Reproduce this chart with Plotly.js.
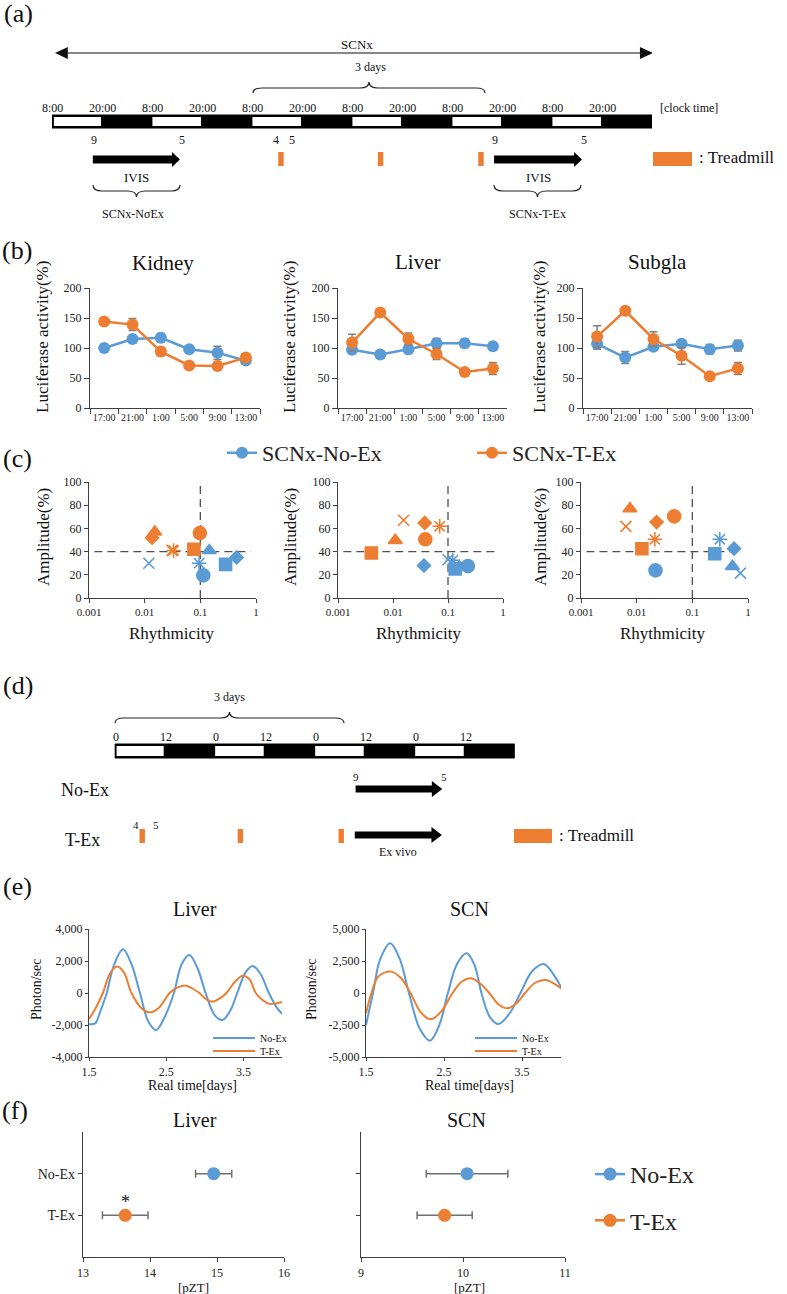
<!DOCTYPE html>
<html><head><meta charset="utf-8">
<script src="https://cdn.plot.ly/plotly-3.0.1.min.js"></script>
<style>html,body{margin:0;padding:0;background:#fff;}#chart{width:787px;height:1294px;}</style>
</head><body><div id="chart"></div>
<script>
// ================= DATA =================
const BLUE = '#5B9BD5', ORANGE = '#ED7D31';

// (a) timeline (hours from 8:00 of day 1)
const aClockHours = [0,12,24,36,48,60,72,84,96,108,120,132];
const aClockLabels = ['8:00','20:00','8:00','20:00','8:00','20:00','8:00','20:00','8:00','20:00','8:00','20:00'];
const aLightOn = [0,24,48,72,96,120];
const aTotalHours = 144;
const aSpan = [0.7, 144.2];
const aIvis = [[9.8,30.7],[106.1,127.2]];
const aIvisLabels = [['9','5'],['9','5']];
const aGroupLabels = ['SCNx-NσEx','SCNx-T-Ex'];
const aTread = [54.3, 78.2, 102.3];
const treadLen = 1.3;
const lightLen = 12;

// (b) luciferase activity
const bTimes = ['17:00','21:00','1:00','5:00','9:00','13:00'];
const kidneyNoEx = [100,115,117,98,92,79];
const kidneyNoExErr = [3,5,7,4,11,4];
const kidneyTEx = [144,139,94,71,70,84];
const kidneyTExErr = [4,10,7,4,4,5];
const liverNoEx = [97,89,98,108,108,103];
const liverNoExErr = [6,6,7,8,7,5];
const liverTEx = [109,159,115,90,60,66];
const liverTExErr = [14,5,10,9,4,10];
const subglaNoEx = [107,84,102,107,98,104];
const subglaNoExErr = [9,10,5,5,8,9];
const subglaTEx = [119,162,115,87,53,66];
const subglaTExErr = [18,5,12,14,4,10];

// (c) rhythmicity vs amplitude
const kidRhyTEx = [0.0136,0.0152,0.031,0.033,0.0766,0.098];
const kidAmpTEx = [52,57,41,41,42,56];
const kidSymTEx = ['diamond','triangle-up','x-thin-open','asterisk-open','square','circle'];
const kidRhyNoEx = [0.0119,0.095,0.113,0.145,0.284,0.449];
const kidAmpNoEx = [30,30,19.5,41,29,35];
const kidSymNoEx = ['x-thin-open','asterisk-open','circle','triangle-up','square','diamond'];

const livRhyTEx = [0.0156,0.0377,0.0705,0.011,0.0387,0.00404];
const livAmpTEx = [67,64.7,61.8,49.7,50.6,38.8];
const livSymTEx = ['x-thin-open','diamond','asterisk-open','triangle-up','circle','square'];
const livRhyNoEx = [0.0366,0.1,0.122,0.135,0.16,0.23];
const livAmpNoEx = [28,33,32.5,25,27,27.5];
const livSymNoEx = ['diamond','x-thin-open','asterisk-open','square','triangle-up','circle'];

const subRhyTEx = [0.00757,0.0064,0.0228,0.0472,0.0212,0.0124];
const subAmpTEx = [77,61.8,65.5,70.4,50.6,42.5];
const subSymTEx = ['triangle-up','x-thin-open','diamond','circle','asterisk-open','square'];
const subRhyNoEx = [0.0218,0.311,0.253,0.562,0.525,0.73];
const subAmpNoEx = [23.8,50.6,38.2,42.5,27.3,21.5];
const subSymNoEx = ['circle','asterisk-open','square','diamond','triangle-up','x-thin-open'];

const ampThreshold = 40;
const rhyThreshold = 0.1;

// (d) timeline (ZT hours)
const dZTHours = [0,12,24,36,48,60,72,84];
const dZTLabels = ['0','12','0','12','0','12','0','12'];
const dLightOn = [0,24,48,72];
const dTotalHours = 96;
const dNoExArrow = [57.8,78.6];
const dTExArrow = [57.6,78.5];
const dTread = [5.95,29.5,53.7];

// (e) bioluminescence traces
const eLiverNoExDays = [1.5,1.58,1.65,1.73,1.82,1.94,2.05,2.16,2.27,2.37,2.48,2.60,2.70,2.80,2.91,3.01,3.13,3.23,3.33,3.42,3.53,3.62,3.72,3.83,3.93,4.0];
const eLiverNoExVals = [-1950,-1900,-1100,0,1700,2730,1800,0,-1800,-2310,-1500,0,1800,2380,1500,0,-1400,-1690,-1100,0,1300,1690,1200,0,-900,-1300];
const eLiverTExDays = [1.5,1.58,1.68,1.77,1.86,1.95,2.05,2.17,2.29,2.41,2.545,2.65,2.76,2.85,2.93,3.02,3.10,3.19,3.28,3.39,3.49,3.58,3.66,3.75,3.84,3.92,4.0];
const eLiverTExVals = [-1625,-1000,0,1200,1650,1300,0,-900,-1210,-900,0,350,460,250,0,-400,-540,-350,0,700,1080,850,0,-450,-680,-650,-560];
const eScnNoExDays = [1.5,1.59,1.68,1.81,1.93,2.05,2.19,2.32,2.44,2.55,2.67,2.79,2.89,2.98,3.09,3.20,3.34,3.48,3.63,3.78,3.92,4.03];
const eScnNoExVals = [-2500,0,2600,3880,2700,0,-2800,-3720,-2500,0,2300,3100,2200,0,-1900,-2420,-1600,0,1700,2260,1300,100];
const eScnTExDays = [1.5,1.57,1.66,1.82,1.95,2.07,2.2,2.33,2.47,2.61,2.73,2.85,2.97,3.08,3.2,3.31,3.43,3.54,3.67,3.80,3.92,4.03];
const eScnTExVals = [-1580,0,1300,1670,1150,0,-1500,-2060,-1400,0,900,1150,700,0,-900,-1200,-800,0,800,1020,700,230];
const eLiverTicks = [-4000,-2000,0,2000,4000];
const eLiverTickText = ['-4,000','-2,000','0','2,000','4,000'];
const eScnTicks = [-5000,-2500,0,2500,5000];
const eScnTickText = ['-5,000','-2,500','0','2,500','5,000'];
const eDayTicks = [1.5,2.5,3.5];

// (f) peak phase
const fGroups = ['No-Ex','T-Ex'];
const fLiverPhase = [14.95,13.63];
const fLiverErr = [0.27,0.34];
const fScnPhase = [10.04,9.82];
const fScnErr = [0.40,0.27];

// ================= HELPERS =================
const FONT = "'Liberation Serif', 'DejaVu Serif', serif";
const W = 787, H = 1294;
const fx = p => p / W, fy = p => 1 - p / H;
const TXT = '#111';

const annotations = [];
const shapes = [];
function T(text, x, y, size, o) {
  annotations.push(Object.assign({text, x: fx(x), y: fy(y), xref: 'paper', yref: 'paper', showarrow: false,
    font: {family: FONT, size, color: TXT}, xanchor: 'center', yanchor: 'middle'}, o || {}));
}
function TA(text, axis, h, y, size, o) {
  annotations.push(Object.assign({text, x: h, y, xref: axis, yref: 'y13', showarrow: false,
    font: {family: FONT, size, color: TXT}, xanchor: 'center', yanchor: 'middle'}, o || {}));
}
function rect(axis, x0, x1, y0, y1, color, lw, lc) {
  shapes.push({type: 'rect', xref: axis, yref: 'y13', x0, x1, y0, y1, fillcolor: color,
    line: {width: lw || 0, color: lc || color}});
}
function arrowShape(axis, h1, h2, yc, headLen, bodyHalf, headHalf) {
  const hb = h2 - headLen;
  shapes.push({type: 'path', xref: axis, yref: 'y13', fillcolor: '#000', line: {width: 0},
    path: `M${h1},${yc-bodyHalf} L${hb},${yc-bodyHalf} L${hb},${yc-headHalf} L${h2},${yc} L${hb},${yc+headHalf} L${hb},${yc+bodyHalf} L${h1},${yc+bodyHalf} Z`});
}
function brace(x1, x2, yEnd, yLine, yTip) {
  const xm = (x1 + x2) / 2, r = 9;
  shapes.push({type: 'path', xref: 'x13', yref: 'y13', line: {color: '#222', width: 1.2},
    path: `M${x1},${yEnd} Q${x1},${yLine} ${x1+r},${yLine} L${xm-r},${yLine} Q${xm},${yLine} ${xm},${yTip} Q${xm},${yLine} ${xm+r},${yLine} L${x2-r},${yLine} Q${x2},${yLine} ${x2},${yEnd}`});
}

// ================= PANEL (a) SCHEMATIC =================
T('(a)', 18, 14, 26);
shapes.push({type: 'line', xref: 'x10', yref: 'y13', x0: aSpan[0] + 2, x1: aSpan[1] - 2, y0: 53, y1: 53, line: {color: '#111', width: 1.2}});
shapes.push({type: 'path', xref: 'x10', yref: 'y13', fillcolor: '#111', line: {width: 0},
  path: `M${aSpan[0]},53 L${aSpan[0]+3.1},47 L${aSpan[0]+3.1},59 Z`});
shapes.push({type: 'path', xref: 'x10', yref: 'y13', fillcolor: '#111', line: {width: 0},
  path: `M${aSpan[1]},53 L${aSpan[1]-3.1},47 L${aSpan[1]-3.1},59 Z`});
T('SCNx', 357, 45, 13);
T('3 days', 370, 67, 12);
brace(253, 485, 93, 88, 82);
rect('x10', 0, aTotalHours, 115, 128, '#000', 1, '#000');
aLightOn.forEach(h => rect('x10', h + (h === 0 ? 0.45 : 0.1), h + lightLen - 0.25, 117, 126, '#fff'));
aClockHours.forEach((h, i) => TA(aClockLabels[i], 'x10', h, 108, 12));
T('[clock time]', 658, 108, 12, {xanchor: 'left'});
aIvis.forEach((seg, i) => {
  arrowShape('x10', seg[0], seg[1], 159.5, 1.9, 4, 7.5);
  TA(aIvisLabels[i][0], 'x10', seg[0] + 0.2, 140, 12);
  TA(aIvisLabels[i][1], 'x10', seg[1] + 0.5, 140, 12);
  TA('IVIS', 'x10', (seg[0] + seg[1]) / 2, 177, 13);
});
brace(93, 180, 185, 191, 197);
brace(494, 581, 185, 191, 197);
T(aGroupLabels[0], 133, 214, 12);
T(aGroupLabels[1], 537, 214, 12);
aTread.forEach(h => rect('x10', h, h + treadLen, 152, 166, ORANGE));
TA('4', 'x10', aTread[0] - 0.6, 140, 12);
TA('5', 'x10', aTread[0] + treadLen + 2.0, 140, 12);
rect('x13', 653, 692, 152, 166, ORANGE);
T(': Treadmill', 697, 158, 17, {xanchor: 'left'});

// ================= PANEL (d) SCHEMATIC =================
T('(d)', 18, 685, 26);
T('3 days', 229, 697, 12);
brace(115, 344, 723, 718, 712);
rect('x11', 0, dTotalHours, 744, 758, '#000', 1, '#000');
dLightOn.forEach(h => rect('x11', h + (h === 0 ? 0.45 : 0.1), h + lightLen - 0.25, 746, 756, '#fff'));
dZTHours.forEach((h, i) => TA(dZTLabels[i], 'x11', h + 0.4, 737, 12));
T('No-Ex', 85, 790, 18);
T('T-Ex', 82, 840, 18);
arrowShape('x11', dNoExArrow[0], dNoExArrow[1], 789, 2.5, 3.5, 8);
TA('9', 'x11', dNoExArrow[0] + 0.1, 777, 11);
TA('5', 'x11', dNoExArrow[1] + 0.3, 777, 11);
arrowShape('x11', dTExArrow[0], dTExArrow[1], 835, 2.5, 3.5, 8);
TA('Ex vivo', 'x11', (dTExArrow[0] + dTExArrow[1]) / 2, 852, 12);
dTread.forEach(h => rect('x11', h, h + treadLen, 829, 843, ORANGE));
TA('4', 'x11', dTread[0] - 0.8, 825, 11);
TA('5', 'x11', dTread[0] + treadLen + 2.6, 825, 11);
rect('x13', 514, 552, 829, 843, ORANGE);
T(': Treadmill', 557, 836, 17, {xanchor: 'left'});

// ================= TRACES =================
const traces = [];
traces.push({x: [], y: [], xaxis: 'x13', yaxis: 'y13', showlegend: false, hoverinfo: 'skip'});
traces.push({x: [], y: [], xaxis: 'x10', yaxis: 'y13', showlegend: false, hoverinfo: 'skip'});
traces.push({x: [], y: [], xaxis: 'x11', yaxis: 'y13', showlegend: false, hoverinfo: 'skip'});

// (b)
const bPanels = [
  {xa: 'x', ya: 'y', no: kidneyNoEx, noE: kidneyNoExErr, t: kidneyTEx, tE: kidneyTExErr},
  {xa: 'x2', ya: 'y2', no: liverNoEx, noE: liverNoExErr, t: liverTEx, tE: liverTExErr},
  {xa: 'x3', ya: 'y3', no: subglaNoEx, noE: subglaNoExErr, t: subglaTEx, tE: subglaTExErr}
];
const errStyle = arr => ({type: 'data', array: arr, visible: true, color: '#808080', thickness: 1.5, width: 4});
bPanels.forEach((p, i) => {
  traces.push({type: 'scatter', mode: 'lines+markers', x: bTimes, y: p.no, xaxis: p.xa, yaxis: p.ya,
    name: 'SCNx-No-Ex', showlegend: i === 0, legend: 'legend',
    marker: {color: BLUE, size: 12, opacity: 1}, line: {color: BLUE, width: 2.5}, error_y: errStyle(p.noE)});
  traces.push({type: 'scatter', mode: 'lines+markers', x: bTimes, y: p.t, xaxis: p.xa, yaxis: p.ya,
    name: 'SCNx-T-Ex', showlegend: i === 0, legend: 'legend',
    marker: {color: ORANGE, size: 12, opacity: 1}, line: {color: ORANGE, width: 2.5}, error_y: errStyle(p.tE)});
});

// (c)
const symSize = {'circle': 13, 'square': 12, 'diamond': 10, 'triangle-up': 12, 'x-thin-open': 11, 'asterisk-open': 12};
const cPanels = [
  {xa: 'x4', ya: 'y4', nx: kidRhyNoEx, ny: kidAmpNoEx, ns: kidSymNoEx, tx: kidRhyTEx, ty: kidAmpTEx, ts: kidSymTEx},
  {xa: 'x5', ya: 'y5', nx: livRhyNoEx, ny: livAmpNoEx, ns: livSymNoEx, tx: livRhyTEx, ty: livAmpTEx, ts: livSymTEx},
  {xa: 'x6', ya: 'y6', nx: subRhyNoEx, ny: subAmpNoEx, ns: subSymNoEx, tx: subRhyTEx, ty: subAmpTEx, ts: subSymTEx}
];
cPanels.forEach(p => {
  traces.push({type: 'scatter', mode: 'lines', x: [0.00125, 0.8], y: [ampThreshold, ampThreshold], xaxis: p.xa, yaxis: p.ya,
    showlegend: false, hoverinfo: 'skip', line: {color: '#505050', width: 1.3, dash: '8px,5px'}});
  traces.push({type: 'scatter', mode: 'lines', x: [rhyThreshold, rhyThreshold], y: [0, 100], xaxis: p.xa, yaxis: p.ya,
    showlegend: false, hoverinfo: 'skip', line: {color: '#505050', width: 1.3, dash: '8px,5px'}});
  [[p.nx, p.ny, p.ns, BLUE], [p.tx, p.ty, p.ts, ORANGE]].forEach(g => {
    traces.push({type: 'scatter', mode: 'markers', x: g[0], y: g[1], xaxis: p.xa, yaxis: p.ya, showlegend: false,
      marker: {symbol: g[2], size: g[2].map(s => symSize[s]), color: g[3], opacity: 1, line: {color: g[3], width: 1.6}}});
  });
});

// (e)
[[eLiverNoExDays, eLiverNoExVals, BLUE, 'x7', 'y7'], [eLiverTExDays, eLiverTExVals, ORANGE, 'x7', 'y7'],
 [eScnNoExDays, eScnNoExVals, BLUE, 'x8', 'y8'], [eScnTExDays, eScnTExVals, ORANGE, 'x8', 'y8']].forEach(s => {
  traces.push({type: 'scatter', mode: 'lines', x: s[0], y: s[1], xaxis: s[3], yaxis: s[4], showlegend: false,
    line: {color: s[2], width: 2, shape: 'spline', smoothing: 1}, cliponaxis: true});
});
[[213, 255], [475, 517]].forEach(l => {
  shapes.push({type: 'line', xref: 'x13', yref: 'y13', x0: l[0], x1: l[1], y0: 1038, y1: 1038, line: {color: BLUE, width: 2}});
  shapes.push({type: 'line', xref: 'x13', yref: 'y13', x0: l[0], x1: l[1], y0: 1051, y1: 1051, line: {color: ORANGE, width: 2}});
  T(fGroups[0], l[1] + 3, 1038, 10, {xanchor: 'left'});
  T(fGroups[1], l[1] + 3, 1051, 10, {xanchor: 'left'});
});

// (f)
const fColors = [BLUE, ORANGE];
fGroups.forEach((g, i) => {
  traces.push({type: 'scatter', mode: 'lines+markers', x: [fLiverPhase[i]], y: [g], xaxis: 'x9', yaxis: 'y9',
    name: g, legend: 'legend2', legendgroup: 'g' + i, showlegend: true,
    marker: {color: fColors[i], size: 13, opacity: 1}, line: {color: fColors[i], width: 2.5},
    error_x: {type: 'data', array: [fLiverErr[i]], color: '#707070', thickness: 1.5, width: 4}});
  traces.push({type: 'scatter', mode: 'markers', x: [fScnPhase[i]], y: [g], xaxis: 'x12', yaxis: 'y12',
    showlegend: false, marker: {color: fColors[i], size: 13, opacity: 1},
    error_x: {type: 'data', array: [fScnErr[i]], color: '#707070', thickness: 1.5, width: 4}});
});
annotations.push({text: '*', x: fLiverPhase[1], y: 0.33, xref: 'x9', yref: 'y9', showarrow: false,
  font: {family: FONT, size: 18, color: TXT}, xanchor: 'center', yanchor: 'middle'});

// ================= TEXT LABELS =================
T('(b)', 17, 250, 26);
T('Kidney', 163, 263, 21);
T('Liver', 417, 262, 21);
T('Subgla', 657, 262, 21);
[43, 290, 540].forEach(x => T('Luciferase activity(%)', x, 337, 17, {textangle: -90}));
T('(c)', 17, 459, 26);
[172, 419, 663].forEach(x => T('Rhythmicity', x, 633, 17));
[43, 290, 540].forEach(x => T('Amplitude(%)', x, 537, 17, {textangle: -90}));
T('(e)', 17, 887, 26);
T('Liver', 195, 909, 20);
T('SCN', 469, 909, 20);
[36, 311].forEach(x => T('Photon/sec', x, 990, 14, {textangle: -90}));
T('Real time[days]', 192, 1085, 14);
T('Real time[days]', 469, 1085, 14);
T('(f)', 15, 1110, 26);
T('Liver', 195, 1120, 20);
T('SCN', 466, 1120, 20);
T('[pZT]', 193, 1287, 13);
T('[pZT]', 470, 1287, 13);

// ================= AXES =================
function ax(extra) {
  return Object.assign({showgrid: false, zeroline: false, showline: true, linecolor: '#404040', linewidth: 1.2,
    ticks: 'outside', ticklen: 4, tickwidth: 1, tickcolor: '#404040', tickangle: 0,
    tickfont: {family: FONT, size: 12, color: '#222'}, fixedrange: true}, extra);
}
const tf = s => ({family: FONT, size: s, color: '#222'});
const layout = {
  width: W, height: H, margin: {l: 0, r: 0, t: 0, b: 0}, autosize: false,
  paper_bgcolor: '#fff', plot_bgcolor: 'rgba(0,0,0,0)', font: {family: FONT}, hovermode: false,
  shapes, annotations,
  legend: {orientation: 'h', x: fx(222), y: fy(432), xanchor: 'left', yanchor: 'top',
    font: {family: FONT, size: 22, color: '#222'}, bgcolor: 'rgba(0,0,0,0)', entrywidth: 205, entrywidthmode: 'pixels'},
  legend2: {x: fx(590), y: fy(1152), xanchor: 'left', yanchor: 'top', tracegroupgap: 12,
    font: {family: FONT, size: 24, color: '#222'}, bgcolor: 'rgba(0,0,0,0)'},
  xaxis: ax({domain: [fx(90), fx(260)], anchor: 'y', type: 'category', tickson: 'boundaries', range: [-0.5, 5.5], ticklen: 5, tickfont: tf(10)}),
  yaxis: ax({domain: [fy(408), fy(288)], anchor: 'x', range: [0, 200], dtick: 50, ticklen: 5}),
  xaxis2: ax({domain: [fx(338), fx(507)], anchor: 'y2', type: 'category', tickson: 'boundaries', range: [-0.5, 5.5], ticklen: 5, tickfont: tf(10)}),
  yaxis2: ax({domain: [fy(408), fy(288)], anchor: 'x2', range: [0, 200], dtick: 50, ticklen: 5}),
  xaxis3: ax({domain: [fx(583), fx(752)], anchor: 'y3', type: 'category', tickson: 'boundaries', range: [-0.5, 5.5], ticklen: 5, tickfont: tf(10)}),
  yaxis3: ax({domain: [fy(408), fy(288)], anchor: 'x3', range: [0, 200], dtick: 50, ticklen: 5}),
  xaxis4: ax({domain: [fx(89), fx(256)], anchor: 'y4', type: 'log', range: [-3, 0], tickvals: [0.001, 0.01, 0.1, 1], ticktext: ['0.001', '0.01', '0.1', '1'], tickfont: tf(11)}),
  yaxis4: ax({domain: [fy(598), fy(482)], anchor: 'x4', range: [0, 100], dtick: 20}),
  xaxis5: ax({domain: [fx(338), fx(503)], anchor: 'y5', type: 'log', range: [-3, 0], tickvals: [0.001, 0.01, 0.1, 1], ticktext: ['0.001', '0.01', '0.1', '1'], tickfont: tf(11)}),
  yaxis5: ax({domain: [fy(598), fy(482)], anchor: 'x5', range: [0, 100], dtick: 20}),
  xaxis6: ax({domain: [fx(581), fx(748)], anchor: 'y6', type: 'log', range: [-3, 0], tickvals: [0.001, 0.01, 0.1, 1], ticktext: ['0.001', '0.01', '0.1', '1'], tickfont: tf(11)}),
  yaxis6: ax({domain: [fy(598), fy(482)], anchor: 'x6', range: [0, 100], dtick: 20}),
  xaxis7: ax({domain: [fx(89), fx(282)], anchor: 'y7', range: [1.5, 4.0], tickvals: eDayTicks, ticktext: eDayTicks.map(String), ticklen: 3}),
  yaxis7: ax({domain: [fy(1057), fy(929)], anchor: 'x7', range: [-4000, 4000], tickvals: eLiverTicks, ticktext: eLiverTickText, ticklen: 3}),
  xaxis8: ax({domain: [fx(366), fx(561)], anchor: 'y8', range: [1.5, 4.0], tickvals: eDayTicks, ticktext: eDayTicks.map(String), ticklen: 3}),
  yaxis8: ax({domain: [fy(1057), fy(929)], anchor: 'x8', range: [-5000, 5000], tickvals: eScnTicks, ticktext: eScnTickText, ticklen: 3}),
  xaxis9: ax({domain: [fx(83), fx(284)], anchor: 'y9', range: [13, 16], dtick: 1}),
  yaxis9: ax({domain: [fy(1257), fy(1132)], anchor: 'x9', type: 'category', categoryorder: 'array', categoryarray: ['T-Ex', 'No-Ex'], range: [-1, 2], tickfont: tf(14)}),
  xaxis12: ax({domain: [fx(361), fx(565)], anchor: 'y12', range: [9, 11], dtick: 1}),
  yaxis12: ax({domain: [fy(1257), fy(1132)], anchor: 'x12', type: 'category', categoryorder: 'array', categoryarray: ['T-Ex', 'No-Ex'], range: [-1, 2], showticklabels: false}),
  xaxis10: {domain: [fx(52), fx(652)], range: [0, aTotalHours], visible: false, anchor: 'y13', fixedrange: true},
  xaxis11: {domain: [fx(114.7), fx(514.8)], range: [0, dTotalHours], visible: false, anchor: 'y13', fixedrange: true},
  xaxis13: {domain: [0, 1], range: [0, W], visible: false, anchor: 'y13', fixedrange: true},
  yaxis13: {domain: [0, 1], range: [H, 0], visible: false, anchor: 'x13', fixedrange: true}
};

Plotly.newPlot('chart', traces, layout, {staticPlot: true, displayModeBar: false});
</script>
</body></html>
